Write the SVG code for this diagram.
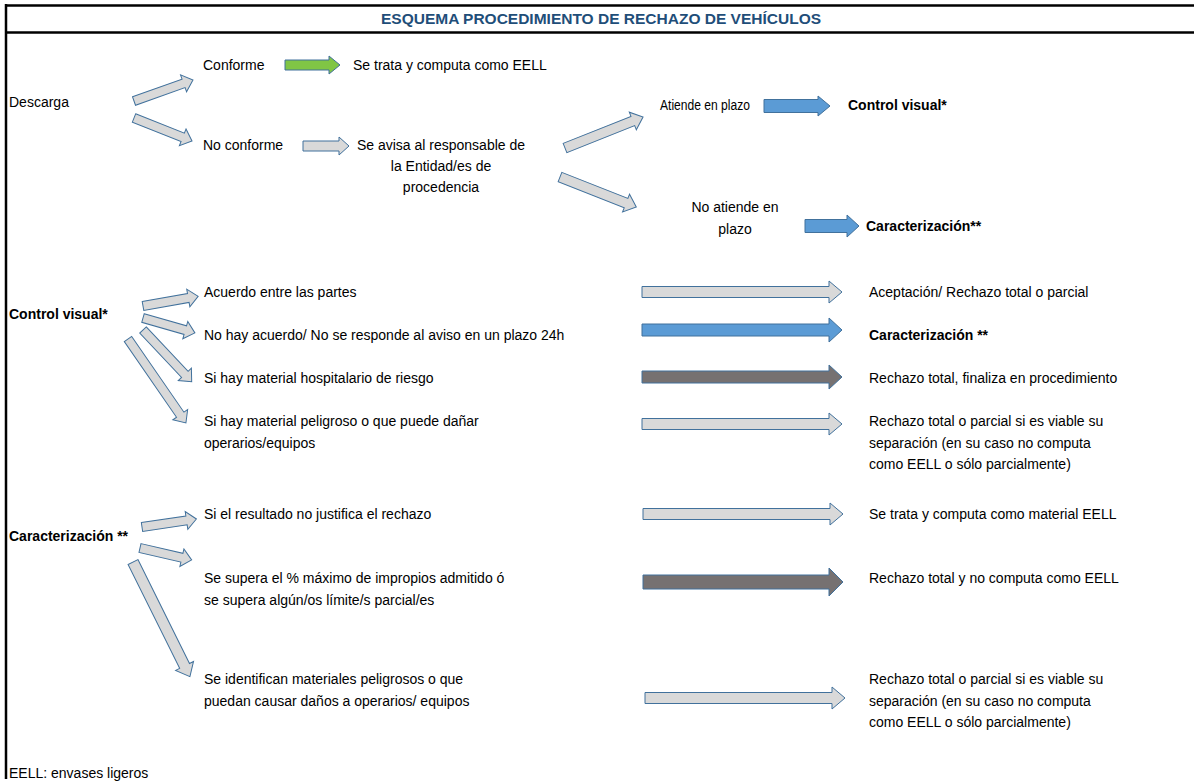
<svg xmlns="http://www.w3.org/2000/svg" width="1194" height="783" viewBox="0 0 1194 783">
<style>
text{font-family:"Liberation Sans",Arial,sans-serif;font-size:14px;fill:#000}
.b{font-weight:bold}
.t{font-weight:bold;font-size:15.5px;fill:#1F4E79}
.m{text-anchor:middle}
.lg{fill:#D9D9D9;stroke:#41719C;stroke-width:1}
.bl{fill:#5B9BD5;stroke:#41719C;stroke-width:1}
.dk{fill:#767171;stroke:#41719C;stroke-width:1}
.gr{fill:#80C545;stroke:#41719C;stroke-width:1}
.frame{stroke:#000;stroke-width:2.5;fill:none}
</style>
<rect width="1194" height="783" fill="#fff"/>
<g id="frame">
<line class="frame" x1="5" y1="5.5" x2="1194" y2="5.5"/>
<line class="frame" x1="5" y1="32.5" x2="1194" y2="32.5"/>
<line class="frame" x1="6" y1="4" x2="6" y2="779"/>
</g>
<g id="title"><text class="t m" x="601" y="24">ESQUEMA PROCEDIMIENTO DE RECHAZO DE VEHÍCULOS</text></g>

<g id="connectors">
<polygon class="gr" points="285,60 329,60 329,56 340,65 329,74 329,70 285,70"/>
<polygon class="lg" points="303,141 339,141 339,137 349,146 339,155 339,151 303,151"/>
<polygon class="bl" points="764,99.5 818,99.5 818,96 830,106 818,116 818,112.5 764,112.5"/>
<polygon class="bl" points="805,219.5 847,219.5 847,215 859,226 847,237 847,232.5 805,232.5"/>
<polygon class="lg" transform="translate(134,101) rotate(-19.6)" points="0,-4.5 52.6,-4.5 52.6,-9 62.6,0 52.6,9 52.6,4.5 0,4.5"/>
<polygon class="lg" transform="translate(134,118) rotate(21.6)" points="0,-4.5 52.4,-4.5 52.4,-9 62.4,0 52.4,9 52.4,4.5 0,4.5"/>
<polygon class="lg" transform="translate(565,148) rotate(-21.7)" points="0,-5 73,-5 73,-9.5 84,0 73,9.5 73,5 0,5"/>
<polygon class="lg" transform="translate(560,177) rotate(21.5)" points="0,-5 71,-5 71,-9.5 82,0 71,9.5 71,5 0,5"/>
<polygon class="lg" transform="translate(143,306) rotate(-10)" points="0,-4.5 46,-4.5 46,-9 56,0 46,9 46,4.5 0,4.5"/>
<polygon class="lg" transform="translate(143,318) rotate(16)" points="0,-4.5 44,-4.5 44,-9 54,0 44,9 44,4.5 0,4.5"/>
<polygon class="lg" transform="translate(143,330) rotate(46.7)" points="0,-4.5 61,-4.5 61,-9 71,0 61,9 61,4.5 0,4.5"/>
<polygon class="lg" transform="translate(128,339) rotate(55.4)" points="0,-4.5 92,-4.5 92,-9 102,0 92,9 92,4.5 0,4.5"/>
<polygon class="lg" points="642,286.5 829,286.5 829,281 842,292 829,303 829,297.5 642,297.5"/>
<polygon class="bl" points="642,324 829,324 829,318 842,330 829,342 829,336 642,336"/>
<polygon class="dk" points="642,371 829,371 829,365 842,377 829,389 829,383 642,383"/>
<polygon class="lg" points="642,418.5 829,418.5 829,413 842,424 829,435 829,429.5 642,429.5"/>
<polygon class="lg" transform="translate(142,527) rotate(-8.4)" points="0,-4.5 45,-4.5 45,-9 55,0 45,9 45,4.5 0,4.5"/>
<polygon class="lg" transform="translate(140,548) rotate(13)" points="0,-4.5 43,-4.5 43,-9 53,0 43,9 43,4.5 0,4.5"/>
<polygon class="lg" transform="translate(133,562) rotate(63.6)" points="0,-5.5 116,-5.5 116,-10 128,0 116,10 116,5.5 0,5.5"/>
<polygon class="lg" points="643,508.5 830,508.5 830,503 843,514 830,525 830,519.5 643,519.5"/>
<polygon class="dk" points="643,575 829,575 829,568 843,582 829,596 829,589 643,589"/>
<polygon class="lg" points="645,692.5 832,692.5 832,687 845,698 832,709 832,703.5 645,703.5"/>
</g>

<g id="descarga"><text x="9" y="107">Descarga</text></g>
<g id="conforme"><text x="203" y="70">Conforme</text></g>
<g id="trata"><text x="353" y="70">Se trata y computa como EELL</text></g>
<g id="no-conforme"><text x="203" y="150">No conforme</text></g>
<g id="aviso"><text class="m" x="441" y="150">Se avisa al responsable de</text><text class="m" x="441" y="171">la Entidad/es de</text><text class="m" x="441" y="192">procedencia</text></g>
<g id="atiende"><text x="660" y="110" textLength="90" lengthAdjust="spacingAndGlyphs">Atiende en plazo</text></g>
<g id="cv-target"><text class="b" x="848" y="110">Control visual*</text></g>
<g id="no-atiende"><text class="m" x="735" y="212">No atiende en</text><text class="m" x="735" y="234">plazo</text></g>
<g id="car-target"><text class="b" x="866" y="231">Caracterización**</text></g>

<g id="control-visual"><text class="b" x="9" y="319">Control visual*</text></g>
<g id="cv1"><text x="204" y="297">Acuerdo entre las partes</text></g>
<g id="cv2"><text x="204" y="340">No hay acuerdo/ No se responde al aviso en un plazo 24h</text></g>
<g id="cv3"><text x="204" y="383">Si hay material hospitalario de riesgo</text></g>
<g id="cv4"><text x="204" y="426">Si hay material peligroso o que puede dañar</text><text x="204" y="448">operarios/equipos</text></g>
<g id="r1"><text x="869" y="297">Aceptación/ Rechazo total o parcial</text></g>
<g id="r2"><text class="b" x="869" y="340">Caracterización **</text></g>
<g id="r3"><text x="869" y="383">Rechazo total, finaliza en procedimiento</text></g>
<g id="r4"><text x="869" y="426">Rechazo total o parcial si es viable su</text><text x="869" y="448">separación (en su caso no computa</text><text x="869" y="469">como EELL o sólo parcialmente)</text></g>

<g id="caracterizacion"><text class="b" x="9" y="541">Caracterización **</text></g>
<g id="k1"><text x="204" y="519">Si el resultado no justifica el rechazo</text></g>
<g id="k2"><text x="204" y="583">Se supera el % máximo de impropios admitido ó</text><text x="204" y="605">se supera algún/os límite/s parcial/es</text></g>
<g id="k3"><text x="204" y="684">Se identifican materiales peligrosos o que</text><text x="204" y="706">puedan causar daños a operarios/ equipos</text></g>
<g id="s1"><text x="869" y="519">Se trata y computa como material EELL</text></g>
<g id="s2"><text x="869" y="583">Rechazo total y no computa como EELL</text></g>
<g id="s3"><text x="869" y="684">Rechazo total o parcial si es viable su</text><text x="869" y="706">separación (en su caso no computa</text><text x="869" y="727">como EELL o sólo parcialmente)</text></g>

<g id="footer"><text x="9" y="778">EELL: envases ligeros</text></g>
</svg>
